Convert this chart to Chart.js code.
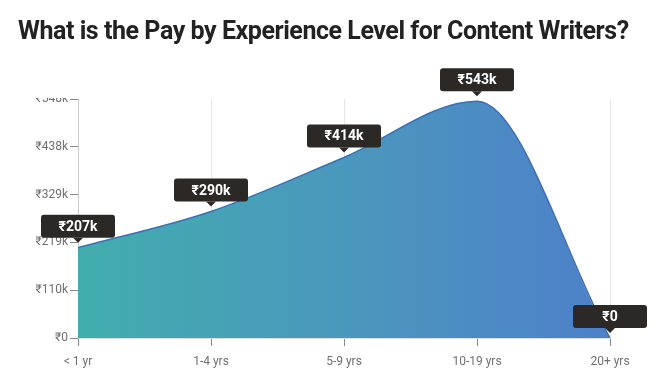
<!DOCTYPE html>
<html>
<head>
<meta charset="utf-8">
<script src="https://cdn.jsdelivr.net/npm/chart.js@4.4.0/dist/chart.umd.min.js"></script>
<style>
  html, body { margin: 0; padding: 0; background: #fff; }
  #wrap { width: 656px; height: 377px; position: relative; }
  #title {
    position: absolute; left: 18px; top: 16px; margin: 0;
    font: bold 25px/30px Roboto, "Liberation Sans", sans-serif;
    letter-spacing: -0.45px;
    color: #222222; white-space: nowrap;
  }
</style>
</head>
<body>
<div id="wrap">
  <canvas id="chart"></canvas>
  <h2 id="title">What is the Pay by Experience Level for Content Writers?</h2>
</div>
<script>
const experienceLevels = ['< 1 yr', '1-4 yrs', '5-9 yrs', '10-19 yrs', '20+ yrs'];
const payValues = [207, 290, 414, 543, 0]; // thousands of rupees
const payLabels = ['₹207k', '₹290k', '₹414k', '₹543k', '₹0'];
const yTickLabels = ['₹0', '₹110k', '₹219k', '₹329k', '₹438k', '₹548k'];
const yMax = 548;

const FONT = 'Roboto, "Liberation Sans", sans-serif';

// dark value boxes above each point
const valueBoxes = {
  id: 'valueBoxes',
  afterDatasetsDraw(chart) {
    const ctx = chart.ctx;
    const meta = chart.getDatasetMeta(0);
    ctx.save();
    ctx.font = 'bold 14px ' + FONT;
    meta.data.forEach((pt, i) => {
      const text = payLabels[i];
      const w = Math.max(ctx.measureText(text).width + 28, 74);
      const h = 23;
      const tipY = pt.y - 5;
      const bottom = tipY - 5;
      const left = pt.x - w / 2;
      const top = bottom - h;
      ctx.fillStyle = '#2b2826';
      ctx.beginPath();
      ctx.roundRect(left, top, w, h, 3);
      ctx.fill();
      ctx.beginPath();
      ctx.moveTo(pt.x - 5, bottom);
      ctx.lineTo(pt.x + 5, bottom);
      ctx.lineTo(pt.x, tipY);
      ctx.closePath();
      ctx.fill();
      ctx.fillStyle = '#ffffff';
      ctx.textAlign = 'center';
      ctx.textBaseline = 'middle';
      ctx.fillText(text, pt.x, top + h / 2 + 1);
    });
    ctx.restore();
  }
};

// the original cuts off the top y label, hide its upper half
const topClip = {
  id: 'topClip',
  afterDraw(chart) {
    const ctx = chart.ctx;
    ctx.save();
    ctx.fillStyle = '#ffffff';
    ctx.fillRect(0, 60, chart.chartArea.left - 10, chart.chartArea.top - 1 - 60);
    ctx.restore();
  }
};

new Chart(document.getElementById('chart'), {
  type: 'line',
  data: {
    labels: experienceLevels,
    datasets: [{
      data: payValues,
      fill: 'origin',
      cubicInterpolationMode: 'monotone',
      borderColor: '#3b70b6',
      borderWidth: 1.5,
      pointRadius: 0,
      backgroundColor: (context) => {
        const area = context.chart.chartArea;
        if (!area) return '#47a0b8';
        const g = context.chart.ctx.createLinearGradient(area.left, 0, area.right, 0);
        g.addColorStop(0, '#42adad');
        g.addColorStop(0.5, '#4a98bd');
        g.addColorStop(1, '#4e80c9');
        return g;
      }
    }]
  },
  options: {
    responsive: true,
    maintainAspectRatio: false,
    animation: false,
    layout: { padding: { left: 18, right: 46, top: 99, bottom: 0 } },
    plugins: {
      legend: { display: false },
      tooltip: { enabled: false },
      title: { display: false }
    },
    scales: {
      x: {
        offset: false,
        afterFit: (scale) => { scale.height = 39; },
        grid: {
          color: '#e6e6e6',
          tickColor: '#888888',
          tickLength: 8
        },
        border: { color: '#dddddd' },
        ticks: {
          color: '#707070',
          padding: 9,
          font: { family: FONT, size: 12 }
        }
      },
      y: {
        min: 0,
        max: yMax,
        afterFit: (scale) => { scale.width = 60; },
        afterBuildTicks: (scale) => {
          scale.ticks = yTickLabels.map((_, i) => ({ value: yMax * i / 5 }));
        },
        grid: {
          drawOnChartArea: false,
          tickColor: '#888888',
          tickLength: 8
        },
        border: { color: '#cccccc' },
        ticks: {
          color: '#707070',
          padding: 2,
          font: { family: FONT, size: 12 },
          callback: (v, i) => yTickLabels[i]
        }
      }
    }
  },
  plugins: [valueBoxes, topClip]
});
</script>
</body>
</html>
